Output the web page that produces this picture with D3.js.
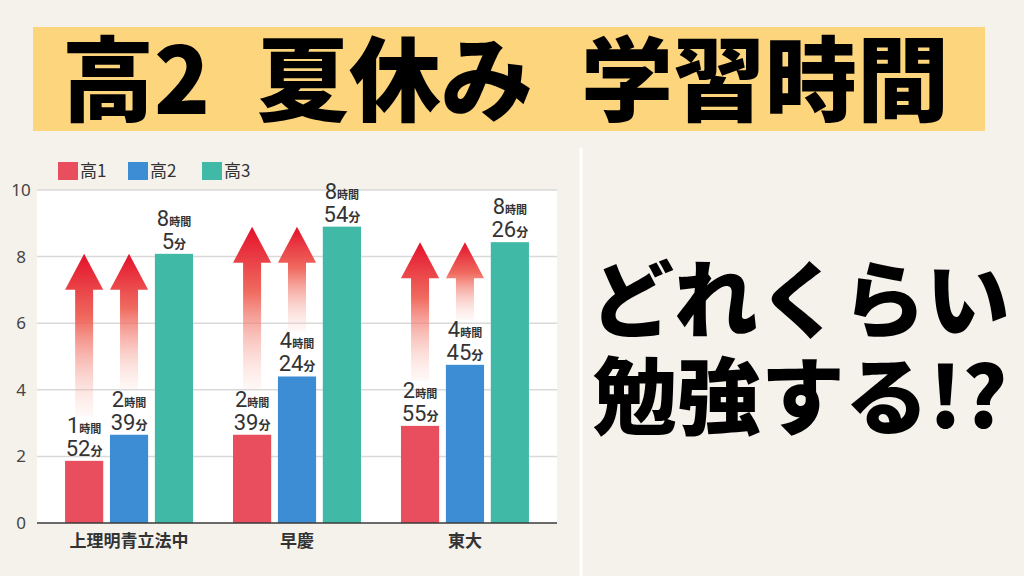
<!DOCTYPE html>
<html><head><meta charset="utf-8">
<script src="https://cdn.jsdelivr.net/npm/d3@7"></script>
<style>
html,body{margin:0;padding:0;background:#f5f2ec;}
svg{display:block;}
</style></head>
<body>
<svg id="c" width="1024" height="576"></svg>
<script>
// ---- data ----
const categories = ["上理明青立法中", "早慶", "東大"];
const series = ["高1", "高2", "高3"];
const k1Hours = [1, 2, 2],  k1Minutes = [52, 39, 55];
const k2Hours = [2, 4, 4],  k2Minutes = [39, 24, 45];
const k3Hours = [8, 8, 8],  k3Minutes = [5, 54, 26];
const yTicks = [0, 2, 4, 6, 8, 10];
const colors = ["#e84e5e", "#3d8dd5", "#40b9a6"];
const titleParts = ["高2", "夏休み", "学習時間"];
const sideLines = ["どれくらい", "勉強する!?"];

const hoursBy = [k1Hours, k2Hours, k3Hours];
const minsBy = [k1Minutes, k2Minutes, k3Minutes];

const svg = d3.select("#c");
const JP = "'Noto Sans CJK JP','Noto Sans CJK SC',sans-serif";

// defs: arrow gradient
const defs = svg.append("defs");
const grad = defs.append("linearGradient").attr("id", "ag")
  .attr("x1", 0).attr("y1", 0).attr("x2", 0).attr("y2", 1);
grad.append("stop").attr("offset", "0%").attr("stop-color", "#e3102a").attr("stop-opacity", 1);
grad.append("stop").attr("offset", "40%").attr("stop-color", "#ee5a4e").attr("stop-opacity", 0.9);
grad.append("stop").attr("offset", "100%").attr("stop-color", "#fbd3c8").attr("stop-opacity", 0.15);

// title box
svg.append("rect").attr("x", 33).attr("y", 27).attr("width", 952).attr("height", 104).attr("fill", "#fdd57d");
const titleX = [62, 257, 581];
svg.append("g").selectAll("text").data(titleParts).join("text")
  .attr("x", (d, i) => titleX[i]).attr("y", 114)
  .attr("font-family", JP).attr("font-weight", 900).attr("font-size", 92)
  .attr("fill", "#000").text(d => d);

// divider
svg.append("line").attr("x1", 581).attr("x2", 581).attr("y1", 148).attr("y2", 576)
  .attr("stroke", "#ffffff").attr("stroke-width", 3);

// side text (one text element, two lines)
const side = svg.append("text")
  .attr("text-anchor", "middle")
  .attr("font-family", JP).attr("font-weight", 900).attr("font-size", 84)
  .attr("fill", "#000");
side.selectAll("tspan").data(sideLines).join("tspan")
  .attr("x", 800).attr("y", (d, i) => 331 + i * 97).text(d => d);

// scales
const y = d3.scaleLinear().domain([0, 10]).range([523, 190]);
const x0 = d3.scaleBand().domain(categories).range([37, 557]).paddingInner(0.238).paddingOuter(0.167);
const x1 = d3.scaleBand().domain(series).range([0, x0.bandwidth()]).paddingInner(0.15);

// plot background
svg.append("rect").attr("x", 37).attr("y", y(10)).attr("width", 520).attr("height", y(0) - y(10)).attr("fill", "#ffffff");

// gridlines
svg.append("g").selectAll("line").data(yTicks.filter(d => d > 0)).join("line")
  .attr("x1", 37).attr("x2", 557).attr("y1", d => y(d)).attr("y2", d => y(d))
  .attr("stroke", "#d9d9d9").attr("stroke-width", 1.5);

// y axis labels
const yAxis = svg.append("g").attr("transform", "translate(37,0)")
  .call(d3.axisLeft(y).tickValues(yTicks).tickSize(0).tickPadding(7));
yAxis.select(".domain").remove();
yAxis.selectAll("text").attr("x", -16).attr("text-anchor", "middle")
  .attr("font-family", "'Noto Sans', sans-serif").attr("font-size", 17).attr("fill", "#444");

// legend
const legX = [58, 128, 202];
const leg = svg.append("g").selectAll("g").data(series).join("g")
  .attr("transform", (d, i) => `translate(${legX[i]},162)`);
leg.append("rect").attr("width", 20).attr("height", 18).attr("fill", (d, i) => colors[i]);
leg.append("text").attr("x", 22).attr("y", 15).attr("font-family", JP).attr("font-size", 17)
  .attr("fill", "#333").text(d => d);

// data rows
const rows = [];
categories.forEach((c, ci) => {
  series.forEach((s, si) => {
    const h = hoursBy[si][ci], m = minsBy[si][ci];
    rows.push({ c, s, si, ci, h, m, v: h + m / 60 });
  });
});
const topOf = ci => rows.find(r => r.ci === ci && r.si === 2).v;

// arrows (behind bars) for 高1 and 高2
const arrowRows = rows.filter(r => r.si < 2);
svg.append("g").selectAll("path").data(arrowRows).join("path")
  .attr("fill", "url(#ag)")
  .attr("d", r => {
    const cx = x0(r.c) + x1(r.s) + x1.bandwidth() / 2;
    const tip = y(topOf(r.ci));
    const bottom = y(r.v) - 45;
    const hw = x1.bandwidth() / 2, sw = 9, hh = 36;
    return `M${cx},${tip} L${cx + hw},${tip + hh} L${cx + sw},${tip + hh} L${cx + sw},${bottom} L${cx - sw},${bottom} L${cx - sw},${tip + hh} L${cx - hw},${tip + hh} Z`;
  });

// bars
svg.append("g").selectAll("rect").data(rows).join("rect")
  .attr("x", r => x0(r.c) + x1(r.s)).attr("width", x1.bandwidth())
  .attr("y", r => y(r.v)).attr("height", r => y(0) - y(r.v))
  .attr("fill", r => colors[r.si]);

// baseline
svg.append("line").attr("x1", 37).attr("x2", 557).attr("y1", y(0)).attr("y2", y(0))
  .attr("stroke", "#3a3a3a").attr("stroke-width", 1.5);

// x axis labels
const xAxis = svg.append("g").attr("transform", `translate(0,${y(0)})`)
  .call(d3.axisBottom(x0).tickSize(0).tickPadding(12));
xAxis.select(".domain").remove();
xAxis.selectAll("text").attr("font-family", JP).attr("font-size", 17).attr("font-weight", 700).attr("fill", "#333");

// value labels
const lab = svg.append("g").selectAll("g").data(rows).join("g")
  .attr("transform", r => `translate(${x0(r.c) + x1(r.s) + x1.bandwidth() / 2},${y(r.v)})`)
  .attr("font-family", "'Roboto', 'Noto Sans', sans-serif").attr("fill", "#333").attr("text-anchor", "middle");
const l1 = lab.append("text").attr("y", -28);
l1.append("tspan").attr("font-size", 22).text(r => r.h);
l1.append("tspan").attr("font-size", 11).attr("font-family", JP).attr("font-weight", 700).text("時間");
const l2 = lab.append("text").attr("y", -5);
l2.append("tspan").attr("font-size", 22).text(r => r.m);
l2.append("tspan").attr("font-size", 12).attr("font-family", JP).attr("font-weight", 700).text("分");
</script>
</body></html>
